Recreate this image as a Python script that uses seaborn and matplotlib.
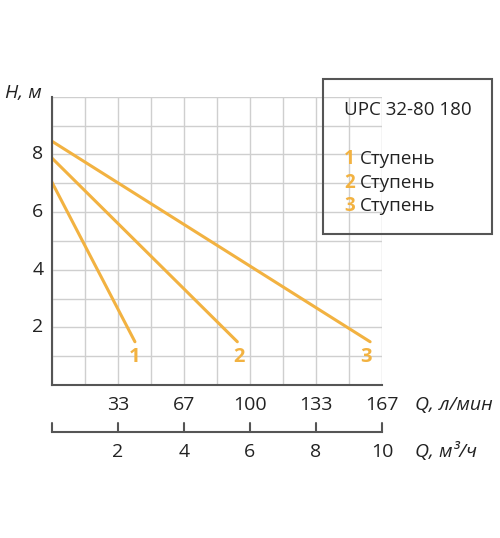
import matplotlib
matplotlib.use("Agg")
import matplotlib.pyplot as plt
import seaborn as sns
import pandas as pd
from matplotlib.patches import Rectangle

# data (Q in m3/h, H in m)
stages = ["1", "2", "3"]
q_start = [0, 0, 0]
h_start = [7.05, 7.88, 8.46]
q_end = [2.52, 5.62, 9.64]
h_end = [1.5, 1.5, 1.5]
label_q = [2.5, 5.67, 9.5]
label_h = [0.98, 0.98, 0.98]
lpm_labels = ["33", "67", "100", "133", "167"]
m3h_labels = ["2", "4", "6", "8", "10"]
y_ticks = [2, 4, 6, 8]
title = "UPC 32-80 180"
legend_text = "Ступень"

ORANGE = "#F2B241"
GRID = "#cfcfcf"
TXT = "#222222"

sns.set_theme(style="white")
plt.rcParams['font.family'] = ['Open Sans', 'DejaVu Sans']

W, H = 500, 538
fig = plt.figure(figsize=(5, 5.38), dpi=100)
def fx(px): return px / W
def fy(py): return 1 - py / H

ax = fig.add_axes([fx(51.7), fy(385), fx(382) - fx(51.7), fy(96.7) - fy(385)])
rows = []
for s, q0, h0, q1, h1 in zip(stages, q_start, h_start, q_end, h_end):
    rows += [dict(stage=s, Q=q0, H=h0), dict(stage=s, Q=q1, H=h1)]
df = pd.DataFrame(rows)
sns.lineplot(data=df, x="Q", y="H", units="stage", estimator=None, color=ORANGE,
             lw=2.2, ax=ax, legend=False)
for s, q, h in zip(stages, label_q, label_h):
    ax.text(q, h, s, color=ORANGE, fontsize=14.5, fontweight="bold", ha="center", va="center")

ax.set_xlim(0, 10)
ax.set_ylim(0, 10)
ax.set_xticks(range(0, 11))
ax.set_yticks(range(0, 11))
ax.grid(True, color=GRID, lw=1)
ax.set_xticklabels([])
ax.set_yticklabels([])
ax.tick_params(length=0)
for k in ["top", "right"]:
    ax.spines[k].set_visible(False)
for k in ["left", "bottom"]:
    ax.spines[k].set_color("#555555")
    ax.spines[k].set_linewidth(1.5)
ax.set_xlabel(""); ax.set_ylabel("")
for yv in y_ticks:
    ax.text(-0.25, yv, str(yv), ha="right", va="center", fontsize=14, color=TXT, clip_on=False)
for i, lab in enumerate(lpm_labels):
    ax.text(2 * (i + 1), -0.7, lab, ha="center", va="center", fontsize=14, color=TXT, clip_on=False)

# second axis (m3/h)
ax2 = fig.add_axes([fx(51.7), fy(432), fx(382) - fx(51.7), 0.001])
ax2.set_xlim(0, 10)
ax2.set_yticks([])
ax2.set_xticks([])
for k in ["top", "right", "left"]:
    ax2.spines[k].set_visible(False)
ax2.spines["bottom"].set_color("#555555")
ax2.spines["bottom"].set_linewidth(1.5)
ax2.set_facecolor("none")
for xv in [0, 2, 4, 6, 8, 10]:
    fig.add_artist(plt.Line2D([fx(51.7 + 33.03 * xv)] * 2, [fy(432), fy(423)], color="#555555", lw=1.5))
for i, lab in enumerate(m3h_labels):
    fig.text(fx(51.7 + 33.03 * 2 * (i + 1)), fy(452), lab, ha="center", va="center", fontsize=14, color=TXT)

fig.text(fx(5), fy(93), "H, м", fontsize=14, style="italic", color=TXT, va="center")
fig.text(fx(415), fy(405), "Q, л/мин", fontsize=14, style="italic", color=TXT, va="center")
fig.text(fx(415), fy(452), "Q, м³/ч", fontsize=14, style="italic", color=TXT, va="center")

fig.add_artist(Rectangle((fx(322.7), fy(234)), fx(491.7) - fx(322.7), fy(79) - fy(234),
                         transform=fig.transFigure, fill=False, edgecolor="#555555", lw=1.5))
fig.text(fx(344), fy(110), title, fontsize=13.5, color=TXT, va="center")
for i, s in enumerate(stages):
    yy = fy(159 + 23.5 * i)
    fig.text(fx(344), yy, s, fontsize=13.5, color=ORANGE, fontweight="bold", va="center")
    fig.text(fx(360), yy, legend_text, fontsize=13.5, color=TXT, va="center")

fig.savefig("out.png", dpi=100)
